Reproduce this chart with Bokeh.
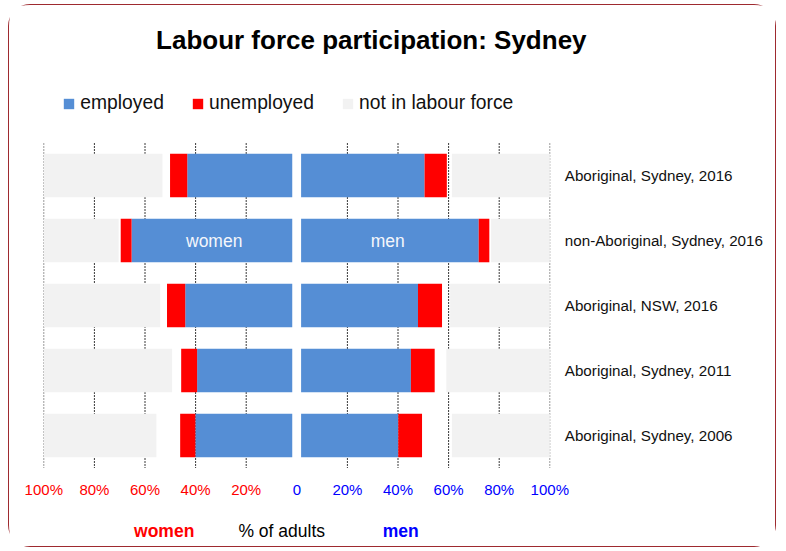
from bokeh.plotting import figure
from bokeh.models import (ColumnDataSource, Range1d, FixedTicker, LinearAxis,
                          Label, Legend, LegendItem, BoxAnnotation)
from bokeh.core.properties import value
from bokeh.embed import file_html
from bokeh.resources import INLINE

# ---------------- data ----------------
categories = ["Aboriginal, Sydney, 2016", "non-Aboriginal, Sydney, 2016",
              "Aboriginal, NSW, 2016", "Aboriginal, Sydney, 2011", "Aboriginal, Sydney, 2006"]
women_employed = [43.3, 65.3, 44.1, 39.4, 40.1]
women_unemployed = [6.8, 4.3, 7.2, 6.3, 6.0]
women_not_in_lf = [46.9, 29.6, 46.0, 50.7, 44.5]
men_employed = [50.5, 71.9, 47.9, 45.1, 40.1]
men_unemployed = [8.8, 4.2, 9.5, 9.4, 9.4]
men_not_in_lf = [38.7, 23.2, 39.4, 40.9, 38.7]
series_labels = ["employed", "unemployed", "not in labour force"]
left_ticks = [-100, -80, -60, -40, -20]
left_tick_labels = ["100%", "80%", "60%", "40%", "20%"]
right_ticks = [0, 20, 40, 60, 80, 100]
right_tick_labels = ["0", "20%", "40%", "60%", "80%", "100%"]

# ---------------- layout helpers (pixel geometry of the page) ----------------
W, H = 768, 543
X0, Y0 = 9, 5            # page position of the canvas (after margin + border)
PX_PER_PCT = 2.53
ZERO_PX = 296.3
ROW0_PX = 175.0
ROW_PX = 65.0


def xd(px):
    return (px - ZERO_PX) / PX_PER_PCT


def yd(py):
    return (py - ROW0_PX) / ROW_PX


FONT = "Liberation Sans"
BLUE = "#558ED5"
RED = "#FF0000"
MBLUE = "#0000FF"
GRAY = "#F2F2F2"

n = len(categories)
rows = list(range(n))
emp_src = ColumnDataSource(dict(
    y=rows * 2,
    left=[-v for v in women_employed] + [0] * n,
    right=[0] * n + men_employed))
unemp_src = ColumnDataSource(dict(
    y=rows * 2,
    left=[-(e + u) for e, u in zip(women_employed, women_unemployed)] + men_employed,
    right=[-e for e in women_employed] + [e + u for e, u in zip(men_employed, men_unemployed)]))
nilf_src = ColumnDataSource(dict(
    y=rows * 2,
    left=[-100] * n + [100 - v for v in men_not_in_lf],
    right=[-100 + v for v in women_not_in_lf] + [100] * n))

p = figure(width=W, height=H,
           x_range=Range1d(xd(X0), xd(X0 + W)), y_range=Range1d(yd(Y0 + H), yd(Y0)),
           x_axis_location=None, y_axis_location=None,
           output_backend="svg", toolbar_location=None)
p.min_border = 0
p.min_border_left = 0
p.min_border_right = 0
p.min_border_top = 0
p.min_border_bottom = 0
p.outline_line_color = None
p.background_fill_color = "white"
p.border_fill_color = "white"
p.xgrid.visible = False
p.ygrid.visible = False
p.styles = {"border": "1px solid #9E2A2F", "border-radius": "22px",
            "margin-left": "8px", "margin-top": "4px"}

# vertical grid lines (only across the bar band)
grid_ticks = left_ticks + [t for t in right_ticks if t != 0]
grid_colors = ["#9A9A9A" if abs(t) == 100 else "#3A3A3A" for t in grid_ticks]
p.segment(x0=grid_ticks, x1=grid_ticks, y0=[-0.5] * len(grid_ticks), y1=[n - 0.5] * len(grid_ticks),
          line_color=grid_colors, line_dash="2 1", line_width=1)

r_nilf = p.hbar(y="y", left="left", right="right", height=0.67, source=nilf_src,
                fill_color=GRAY, line_color=None)
r_emp = p.hbar(y="y", left="left", right="right", height=0.67, source=emp_src,
               fill_color=BLUE, line_color=None)
r_unemp = p.hbar(y="y", left="left", right="right", height=0.67, source=unemp_src,
                 fill_color=RED, line_color=None)

# white separation between the two halves
p.add_layout(BoxAnnotation(left=-1.8, right=1.7, top=-0.5, bottom=n - 0.5,
                           fill_color="white", fill_alpha=1.0, line_color=None))

# in-bar labels on the non-Aboriginal row
p.text(x=[-women_employed[1] / 2, men_employed[1] / 2], y=[rows[1], rows[1]],
       text=["women", "men"], text_font=value(FONT), text_font_size="17.5px",
       text_color="#F4F6FB", text_align="center", text_baseline="middle")

# bottom axes (women red / men blue), pinned to the bottom of the bar band
ax_w = LinearAxis(ticker=FixedTicker(ticks=left_ticks),
                  major_label_overrides=dict(zip(left_ticks, left_tick_labels)),
                  fixed_location=n - 0.5)
ax_w.major_label_text_color = RED
ax_m = LinearAxis(ticker=FixedTicker(ticks=right_ticks),
                  major_label_overrides=dict(zip(right_ticks, right_tick_labels)),
                  fixed_location=n - 0.5)
ax_m.major_label_text_color = MBLUE
for ax in (ax_w, ax_m):
    ax.axis_line_color = None
    ax.major_tick_line_color = None
    ax.minor_tick_line_color = None
    ax.major_label_text_font = FONT
    ax.major_label_text_font_size = "15px"
    ax.major_label_standoff = 7
    p.add_layout(ax, "below")

# category axis on the right of the bars
cat_axis = LinearAxis(ticker=FixedTicker(ticks=rows),
                      major_label_overrides=dict(zip(rows, categories)),
                      fixed_location=100)
cat_axis.axis_line_color = None
cat_axis.major_tick_line_color = None
cat_axis.minor_tick_line_color = None
cat_axis.major_label_standoff = 9
cat_axis.major_label_text_font = FONT
cat_axis.major_label_text_font_size = "15.2px"
cat_axis.major_label_text_color = "#111111"
p.add_layout(cat_axis, "right")

# legend
legend = Legend(items=[LegendItem(label=series_labels[0], renderers=[r_emp]),
                       LegendItem(label=series_labels[1], renderers=[r_unemp]),
                       LegendItem(label=series_labels[2], renderers=[r_nilf])],
                location=(62.3 - X0, Y0 + H - 114), orientation="horizontal",
                glyph_width=13, glyph_height=13, label_standoff=5, spacing=27,
                padding=0, margin=0, border_line_color=None, background_fill_alpha=0,
                label_text_font=FONT, label_text_font_size="19.3px", label_text_color="#111111")
p.add_layout(legend)

# title and bottom captions
p.add_layout(Label(x=xd(370.8), y=yd(39.5),
                   text="Labour force participation: Sydney", text_font=FONT,
                   text_font_style="bold", text_font_size="26px", text_color="black",
                   text_align="center", text_baseline="middle"))
for cap_text, cap_px, cap_style, cap_color in (("women", 163.7, "bold", RED),
                                               ("% of adults", 281.2, "normal", "black"),
                                               ("men", 400.2, "bold", MBLUE)):
    p.add_layout(Label(x=xd(cap_px), y=yd(530.5), text=cap_text,
                       text_font=FONT, text_font_style=cap_style, text_font_size="17.5px",
                       text_color=cap_color, text_align="center", text_baseline="middle"))

open("out.html", "w").write(file_html(p, INLINE))
